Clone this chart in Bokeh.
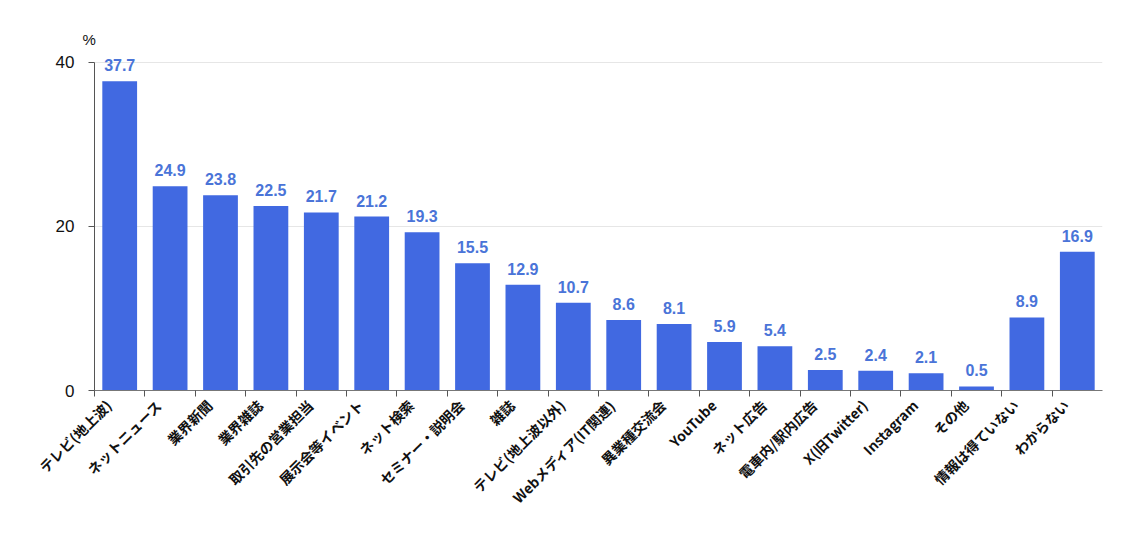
from bokeh.plotting import figure
from bokeh.models import ColumnDataSource, LabelSet, FixedTicker, Range1d
from bokeh.core.properties import value
from bokeh.embed import file_html
from bokeh.resources import INLINE
import math

categories = ["テレビ(地上波)", "ネットニュース", "業界新聞", "業界雑誌", "取引先の営業担当",
              "展示会等イベント", "ネット検索", "セミナー・説明会", "雑誌", "テレビ(地上波以外)",
              "Webメディア(IT関連)", "異業種交流会", "YouTube", "ネット広告", "電車内/駅内広告",
              "X(旧Twitter)", "Instagram", "その他", "情報は得ていない", "わからない"]
values = [37.7, 24.9, 23.8, 22.5, 21.7, 21.2, 19.3, 15.5, 12.9, 10.7,
          8.6, 8.1, 5.9, 5.4, 2.5, 2.4, 2.1, 0.5, 8.9, 16.9]
y_ticks = [0, 20, 40]
unit_label = "%"

FONT = "Noto Sans CJK JP"
NUMFONT = "Liberation Sans"
BAR = "#4169E1"
LBL = "#4a74d8"

SHIFT = 0.22  # label anchor sits slightly left of the bar centre
n = len(categories)
xs = list(range(n))
bar_x = [i + SHIFT for i in xs]
src = ColumnDataSource(dict(x=bar_x, top=values, txt=[f"{v:.1f}" for v in values]))

p = figure(width=1124, height=525, output_backend="svg", toolbar_location=None,
           x_range=Range1d(-0.5 + SHIFT, n - 0.5 + SHIFT), y_range=Range1d(0, 41.2),
           min_border_left=94, min_border_right=22, min_border_top=52, min_border_bottom=135,
           title=unit_label)
p.outline_line_color = None
p.background_fill_color = "white"
p.title.align = "left"
p.title.offset = -12
p.title.text_font = NUMFONT
p.title.text_font_size = "15px"
p.title.text_font_style = "normal"
p.title.text_color = "#111111"
p.title.standoff = 10

p.vbar(x="x", top="top", bottom=0, width=0.69, source=src, color=BAR, line_color=None)

labels = LabelSet(x="x", y="top", text="txt", source=src, y_offset=10,
                  text_align="center", text_baseline="alphabetic",
                  text_font=value(NUMFONT), text_font_size="16px", text_font_style="bold",
                  text_color=LBL)
p.add_layout(labels)

# x axis
xa = p.xaxis[0]
xa.ticker = FixedTicker(ticks=xs, minor_ticks=[i - 0.5 + SHIFT for i in xs])
xa.major_label_overrides = {i: c for i, c in zip(xs, categories)}
xa.major_label_orientation = math.pi / 4
xa.major_tick_out = 0
xa.major_tick_in = 0
xa.minor_tick_out = 6
xa.minor_tick_in = 0
xa.minor_tick_line_color = "#555555"
xa.axis_line_color = "#777777"
xa.major_label_text_font = FONT
xa.major_label_text_font_size = "14px"
xa.major_label_text_font_style = "bold"
xa.major_label_text_color = "#111111"
xa.major_label_standoff = 6

# y axis
ya = p.yaxis[0]
ya.ticker = FixedTicker(ticks=y_ticks)
ya.bounds = (0, 40)
ya.axis_line_color = "#555555"
ya.major_tick_line_color = "#555555"
ya.major_tick_out = 6
ya.major_tick_in = 0
ya.minor_tick_out = 0
ya.minor_tick_in = 0
ya.major_label_text_font = NUMFONT
ya.major_label_text_font_size = "17px"
ya.major_label_text_color = "#111111"
ya.major_label_standoff = 14

p.xgrid.grid_line_color = None
p.ygrid.ticker = FixedTicker(ticks=[t for t in y_ticks if t > 0])
p.ygrid.grid_line_color = "#e6e6e6"

open("out.html", "w").write(file_html(p, INLINE))
